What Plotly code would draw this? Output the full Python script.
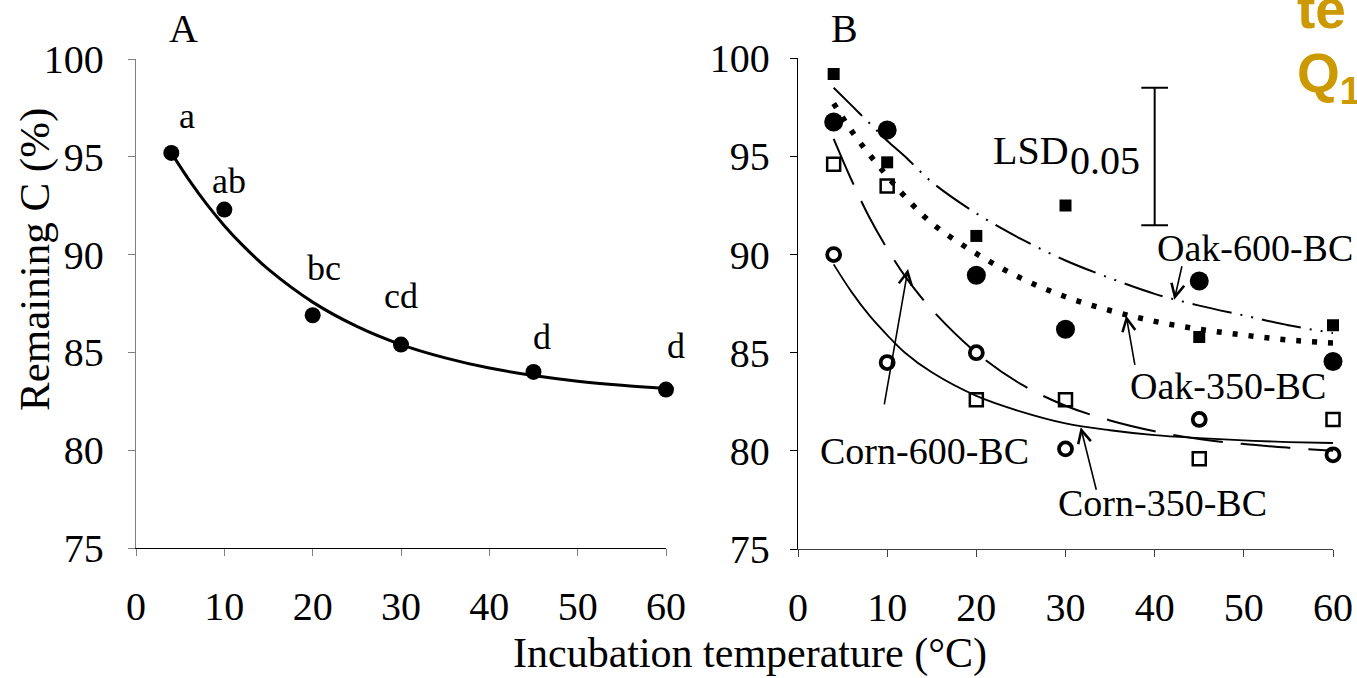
import plotly.graph_objects as go

W, H = 1357, 678
SERIF = "Liberation Serif"

# ---------------- Panel A data ----------------
temp_a = [4, 10, 20, 30, 45, 60]
remaining_a = [95.2, 92.3, 86.9, 85.4, 84.0, 83.1]
letters_a = ["a", "ab", "bc", "cd", "d", "d"]
letter_y = [97.1, 93.75, 89.3, 87.9, 85.8, 85.35]
letter_dx_px = [16, 5, 11, 0, 8, 10]

# fitted curve
curve_x = [4, 6, 8, 10, 12, 15, 20, 25, 30, 35, 40, 45, 50, 55, 60]
curve_a = [95.2, 93.82, 92.58, 91.48, 90.51, 89.24, 87.57, 86.33, 85.4, 84.72, 84.2, 83.82, 83.53, 83.32, 83.16]

# ---------------- Panel B data ----------------
temp_b = [4, 10, 20, 30, 45, 60]
oak600 = [99.2, 94.7, 90.95, 92.5, 85.8, 86.4]
oak350 = [96.75, 96.35, 88.95, 86.2, 88.65, 84.55]
corn600 = [94.6, 93.5, 82.6, 82.6, 79.6, 81.6]
corn350 = [90.0, 84.5, 85.0, 80.1, 81.6, 79.8]

fit_oak600 = [98.5, 97.6, 96.7, 95.8, 95.0, 93.7, 92.1, 90.8, 89.7, 88.8, 88.0, 87.4, 86.9, 86.4, 86.0]
fit_oak350 = [97.7, 96.3, 95.1, 94.0, 92.95, 91.6, 90.05, 88.8, 87.85, 87.15, 86.6, 86.2, 85.9, 85.65, 85.5]
fit_corn600 = [95.9, 93.8, 91.9, 90.3, 88.9, 87.2, 85.0, 83.4, 82.3, 81.55, 81.0, 80.6, 80.35, 80.16, 80.0]
fit_corn350 = [89.5, 88.1, 86.9, 85.9, 85.0, 84.0, 82.8, 82.0, 81.4, 81.05, 80.8, 80.65, 80.53, 80.45, 80.4]

lsd_x = 40
lsd_low, lsd_high = 91.5, 98.5

y_ticks = [75, 80, 85, 90, 95, 100]
x_ticks = [0, 10, 20, 30, 40, 50, 60]

fig = go.Figure()

# Panel A
fig.add_trace(go.Scatter(x=curve_x, y=curve_a, mode="lines", line=dict(color="black", width=3, shape="spline"),
                         xaxis="x", yaxis="y", hoverinfo="skip"))
fig.add_trace(go.Scatter(x=temp_a, y=remaining_a, mode="markers", cliponaxis=False,
                         marker=dict(symbol="circle", size=16, color="black"), xaxis="x", yaxis="y"))

# Panel B curves
fig.add_trace(go.Scatter(x=curve_x, y=fit_oak600, mode="lines",
                         line=dict(color="black", width=2, shape="spline", dash="40px,9px,2px,9px,2px,9px"),
                         xaxis="x2", yaxis="y2"))
fig.add_trace(go.Scatter(x=curve_x, y=fit_oak350, mode="lines",
                         line=dict(color="black", width=5.5, shape="spline", dash="5px,11px"),
                         xaxis="x2", yaxis="y2"))
fig.add_trace(go.Scatter(x=curve_x, y=fit_corn600, mode="lines",
                         line=dict(color="black", width=2, shape="spline", dash="50px,18px"),
                         xaxis="x2", yaxis="y2"))
fig.add_trace(go.Scatter(x=curve_x, y=fit_corn350, mode="lines",
                         line=dict(color="black", width=1.8, shape="spline"),
                         xaxis="x2", yaxis="y2"))

# LSD bar
fig.add_trace(go.Scatter(x=[lsd_x, lsd_x], y=[lsd_low, lsd_high], mode="lines",
                         line=dict(color="black", width=2), xaxis="x2", yaxis="y2"))
for yy in (lsd_low, lsd_high):
    fig.add_trace(go.Scatter(x=[lsd_x - 1.5, lsd_x + 1.5], y=[yy, yy], mode="lines",
                             line=dict(color="black", width=2), xaxis="x2", yaxis="y2"))

# Panel B markers
fig.add_trace(go.Scatter(x=temp_b, y=oak600, mode="markers", cliponaxis=False,
                         marker=dict(symbol="square", size=12, color="black"), xaxis="x2", yaxis="y2"))
fig.add_trace(go.Scatter(x=temp_b, y=oak350, mode="markers", cliponaxis=False,
                         marker=dict(symbol="circle", size=19, color="black"), xaxis="x2", yaxis="y2"))
fig.add_trace(go.Scatter(x=temp_b, y=corn600, mode="markers", cliponaxis=False,
                         marker=dict(symbol="square-open", size=13, color="black", line=dict(width=2.5, color="black")),
                         xaxis="x2", yaxis="y2"))
fig.add_trace(go.Scatter(x=temp_b, y=corn350, mode="markers", cliponaxis=False,
                         marker=dict(symbol="circle-open", size=13, color="black", line=dict(width=3.8, color="black")),
                         xaxis="x2", yaxis="y2"))

tickfont = dict(family=SERIF, size=40, color="black")
common_x = dict(range=[0, 60], tickvals=x_ticks, ticks="outside", ticklen=7, tickwidth=1.3,
                showline=True, linewidth=1.3, showgrid=False, zeroline=False, tickfont=tickfont,
                ticklabelstandoff=16, automargin=False)
common_y = dict(range=[75, 100], tickvals=y_ticks, ticks="outside", ticklen=7, tickwidth=1.3,
                showline=True, linewidth=1.3, showgrid=False, zeroline=False, tickfont=tickfont,
                automargin=False)

fig.update_layout(
    template="none",
    width=W, height=H, margin=dict(l=0, r=0, t=0, b=0, pad=0, autoexpand=False),
    paper_bgcolor="white", plot_bgcolor="white", showlegend=False,
    font=dict(family=SERIF, color="black"),
    xaxis=dict(domain=[136 / W, 666 / W], anchor="y", linecolor="black", tickcolor="#808080", **common_x),
    yaxis=dict(domain=[(H - 548) / H, (H - 59) / H], anchor="x", linecolor="#808080", tickcolor="#808080",
               ticklabelstandoff=16, **common_y),
    xaxis2=dict(domain=[798 / W, 1333 / W], anchor="y2", linecolor="#404040", tickcolor="#404040", **common_x),
    yaxis2=dict(domain=[(H - 549) / H, (H - 58.3) / H], anchor="x2", linecolor="black", tickcolor="black",
                ticklabelstandoff=12, **common_y),
)

ann = []
def txt(x, y, text, size=40, xref="paper", yref="paper", xanchor="center", yanchor="middle", **kw):
    d = dict(x=x, y=y, text=text, showarrow=False, xref=xref, yref=yref, xanchor=xanchor, yanchor=yanchor,
             font=dict(family=SERIF, size=size, color="black"))
    d.update(kw)
    ann.append(d)

def px(xp, yp):
    return xp / W, 1 - yp / H

# panel letters and axis titles
txt(*px(183, 28), "A")
txt(*px(844, 28), "B")
txt(*px(750, 653), "Incubation temperature (°C)", size=42)
txt(*px(35, 260), "Remaining C (%)", size=43, textangle=-90)

# significance letters panel A
for lx, ly, lt, dxp in zip(temp_a, letter_y, letters_a, letter_dx_px):
    txt(lx, ly, lt, size=36, xref="x", yref="y", xshift=dxp)

# LSD label
txt(*px(1071, 151), "LSD", xanchor="right")
txt(*px(1068, 161), "0.05", xanchor="left")

# series labels
txt(*px(1255, 248), "Oak-600-BC", size=38)
txt(*px(1228, 386), "Oak-350-BC", size=38)
txt(*px(924, 451), "Corn-600-BC", size=38)
txt(*px(1162, 503), "Corn-350-BC", size=38)

# arrows (tip in data coords, tail offset in pixels)
arrows = [(12.34, 89.27, -24, 137), (31.7, 81.2, 16, 64), (36.8, 86.9, 9, 51), (42.2, 87.7, 8, -35)]
for ax_, ay_, dx, dy in arrows:
    ann.append(dict(x=ax_, y=ay_, xref="x2", yref="y2", text="", showarrow=True, ax=dx, ay=dy,
                    axref="pixel", ayref="pixel",
                    arrowhead=5, arrowsize=1.6, arrowwidth=1.6, arrowcolor="black"))

# cropped gold text from the slide behind
gold = dict(family="Liberation Sans", size=55, color="#CC9900")
ann.append(dict(x=1295 / W, y=1 - 9 / H, xref="paper", yref="paper", text="<b>te</b>", showarrow=False,
                xanchor="left", yanchor="middle", font=gold))
ann.append(dict(x=1295 / W, y=1 - 77 / H, xref="paper", yref="paper", text="<b>Q<sub>1</sub></b>", showarrow=False,
                xanchor="left", yanchor="middle", font=gold))

fig.update_layout(annotations=ann)
fig.write_html("out.html")
